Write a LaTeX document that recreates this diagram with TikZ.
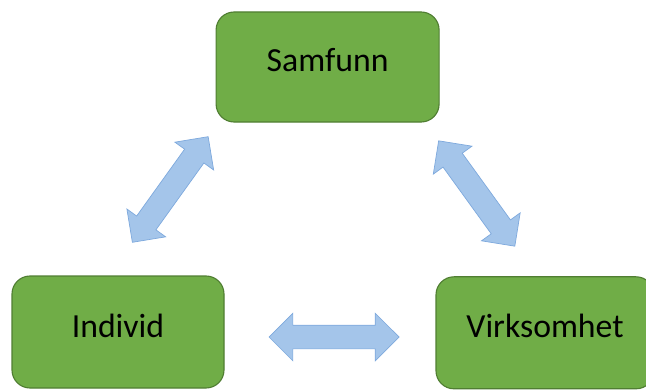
\documentclass[tikz,border=0pt]{standalone}
\usepackage{fontspec}
\setmainfont{Carlito}
\usepackage{xcolor}
\usepackage{tikz}
\usetikzlibrary{calc,shapes.arrows}
\definecolor{boksgronn}{HTML}{70AD47}
\definecolor{boksrand}{HTML}{507E32}
\definecolor{pilbla}{HTML}{A4C5EA}
\definecolor{pilrand}{HTML}{7EA9DD}

\begin{document}
\begin{tikzpicture}[
  font=\fontsize{24}{28}\selectfont,
  boks/.style={rounded corners=0.45cm,draw=boksrand,line width=0.8pt,fill=boksgronn,minimum height=2.8cm,align=center,text depth=0.33cm},
  pil/.style={double arrow,draw=pilrand,line width=0.5pt,fill=pilbla,inner xsep=0pt,inner ysep=0.2875cm,
    double arrow head extend=0.3cm,double arrow tip angle=90,minimum height=3.25cm,sloped}
]
\useasboundingbox (0,0) rectangle (16.15,9.75);
\node[boks,minimum width=5.575cm,minimum height=2.75cm] (samfunn) at (8.19,8.075) {Samfunn};
\node[boks,minimum width=5.3cm] (individ) at (2.95,1.45) {Individ};
\node[boks,minimum width=5.45cm] (virksomhet) at (13.625,1.43) {Virksomhet};

% endepunkter for pilene
\coordinate (i1) at ($(individ.north)+(0.375,0.85)$);
\coordinate (s1) at ($(samfunn.south west)+(-0.2,-0.375)$);
\coordinate (s2) at ($(samfunn.south east)+(-0.03,-0.45)$);
\coordinate (v1) at ($(virksomhet.north)+(-0.75,0.745)$);
\coordinate (i2) at ($(individ.east)+(1.15,-0.125)$);
\coordinate (v2) at ($(virksomhet.west)+(-0.95,-0.105)$);

\path (i1) -- node[pil] {} (s1);
\path (s2) -- node[pil] {} (v1);
\path (i2) -- node[pil] {} (v2);
\end{tikzpicture}
\end{document}
